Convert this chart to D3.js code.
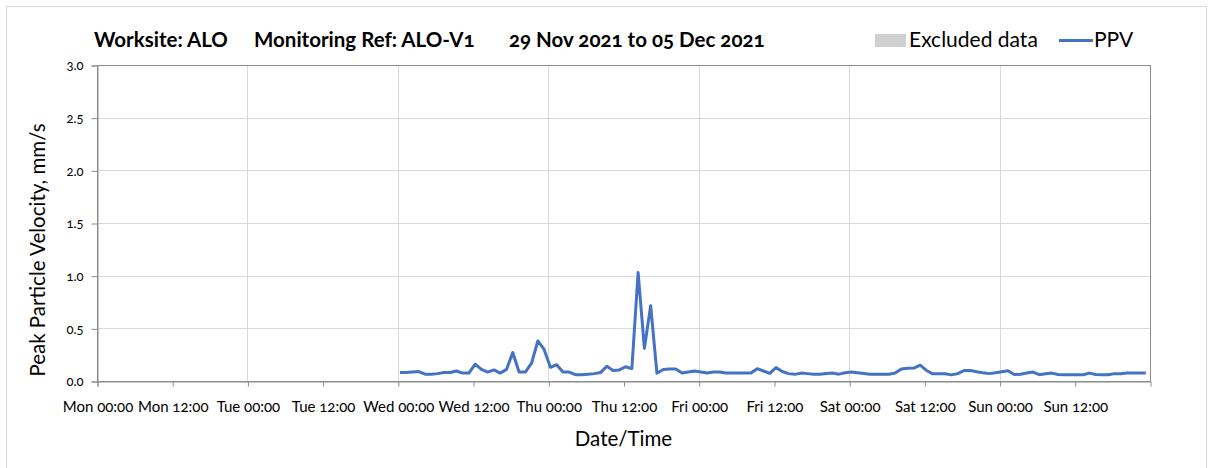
<!DOCTYPE html>
<html>
<head>
<meta charset="utf-8">
<script src="https://cdn.jsdelivr.net/npm/d3@7"></script>
<style>
  html, body { margin: 0; padding: 0; background: #fff; }
  svg { display: block; font-family: Lato, "Open Sans", "Liberation Sans", sans-serif; font-variant-numeric: oldstyle-nums; }
</style>
</head>
<body>
<svg id="chart" width="1208" height="468"></svg>
<script>
// Report period and hourly PPV readings (mm/s), first reading Wed 01 Dec 2021 00:20
const periodStart = new Date(2021, 10, 29, 0, 0);
const periodEnd = new Date(2021, 11, 6, 0, 0);
const firstReading = new Date(2021, 11, 1, 0, 20);
const ppvValues = [
  0.08, 0.08, 0.085, 0.09, 0.065, 0.065, 0.07, 0.08, 0.08, 0.095,
  0.075, 0.075, 0.16, 0.11, 0.085, 0.105, 0.075, 0.11, 0.27, 0.085,
  0.085, 0.17, 0.38, 0.30, 0.13, 0.155, 0.085, 0.085, 0.06, 0.06,
  0.065, 0.07, 0.08, 0.14, 0.10, 0.105, 0.135, 0.117, 1.03, 0.31,
  0.715, 0.073, 0.11, 0.115, 0.115, 0.075, 0.085, 0.095, 0.085, 0.075,
  0.085, 0.085, 0.075, 0.075, 0.075, 0.075, 0.075, 0.117, 0.095, 0.073,
  0.127, 0.09, 0.07, 0.063, 0.075, 0.07, 0.065, 0.065, 0.072, 0.075,
  0.065, 0.078, 0.085, 0.078, 0.072, 0.065, 0.065, 0.065, 0.065, 0.075,
  0.115, 0.12, 0.123, 0.15, 0.10, 0.068, 0.07, 0.068, 0.058, 0.07,
  0.10, 0.10, 0.088, 0.078, 0.07, 0.078, 0.088, 0.098, 0.062, 0.065,
  0.075, 0.085, 0.06, 0.068, 0.075, 0.062, 0.06, 0.06, 0.06, 0.06,
  0.075, 0.062, 0.06, 0.06, 0.07, 0.068, 0.075, 0.075, 0.075, 0.075
];
const yTicks = [0, 0.5, 1.0, 1.5, 2.0, 2.5, 3.0];
const xTickLabels = [
  "Mon 00:00", "Mon 12:00", "Tue 00:00", "Tue 12:00", "Wed 00:00", "Wed 12:00", "Thu 00:00",
  "Thu 12:00", "Fri 00:00", "Fri 12:00", "Sat 00:00", "Sat 12:00", "Sun 00:00", "Sun 12:00"
];
const titleParts = ["Worksite: ALO", "Monitoring Ref: ALO-V1", "29 Nov 2021 to 05 Dec 2021"];
const legendLabels = ["Excluded data", "PPV"];

const readings = ppvValues.map((v, i) => ({ t: d3.timeHour.offset(firstReading, i), v }));
const xTicks = xTickLabels.map((_, i) => d3.timeHour.offset(periodStart, i * 12));

const svg = d3.select("#chart");
const m = { left: 97, right: 1150, top: 65, bottom: 381 };

const x = d3.scaleTime().domain([periodStart, periodEnd]).range([m.left, m.right]);
const y = d3.scaleLinear().domain([0, 3]).range([m.bottom, m.top]);

// outer chart frame
svg.append("rect")
  .attr("x", 6.5).attr("y", 6.5).attr("width", 1200).attr("height", 480)
  .attr("fill", "#fff").attr("stroke", "#d9d9d9").attr("stroke-width", 1);

// gridlines
svg.append("g").selectAll("line").data(yTicks.slice(1))
  .join("line")
  .attr("x1", m.left).attr("x2", m.right)
  .attr("y1", d => Math.round(y(d)) + 0.5).attr("y2", d => Math.round(y(d)) + 0.5)
  .attr("stroke", "#d9d9d9");
svg.append("g").selectAll("line").data(xTicks.filter((d, i) => i % 2 === 0 && i > 0))
  .join("line")
  .attr("x1", d => Math.round(x(d)) + 0.5).attr("x2", d => Math.round(x(d)) + 0.5)
  .attr("y1", m.top).attr("y2", m.bottom)
  .attr("stroke", "#d9d9d9");

// plot frame
svg.append("rect")
  .attr("x", m.left + 0.5).attr("y", m.top + 0.5)
  .attr("width", m.right - m.left).attr("height", m.bottom - m.top)
  .attr("fill", "none").attr("stroke", "#8c8c8c");

// axes
const xAxis = d3.axisBottom(x).tickValues(xTicks).tickSize(5).tickFormat((d, i) => xTickLabels[i]);
const gx = svg.append("g").attr("transform", `translate(0.5,${m.bottom + 0.5})`).call(xAxis);
gx.select(".domain").attr("stroke", "#8c8c8c");
gx.selectAll(".tick line").attr("stroke", "#8c8c8c");
gx.selectAll(".tick text").attr("fill", "#000").attr("font-size", 15).attr("dy", null).attr("y", 30)
  .attr("font-family", "Lato, sans-serif");

const yAxis = d3.axisLeft(y).tickValues(yTicks).tickSize(6).tickFormat(d3.format(".1f"));
const gy = svg.append("g").attr("transform", `translate(${m.left + 0.5},0.5)`).call(yAxis);
gy.select(".domain").attr("stroke", "#8c8c8c");
gy.selectAll(".tick line").attr("stroke", "#8c8c8c");
gy.selectAll(".tick text").attr("fill", "#000").attr("font-size", 13).attr("x", -14)
  .attr("font-family", "Lato, sans-serif");

// PPV line
const line = d3.line().x(d => x(d.t)).y(d => y(d.v));
svg.append("path").datum(readings)
  .attr("d", line)
  .attr("fill", "none").attr("stroke", "#4472c4").attr("stroke-width", 3)
  .attr("stroke-linejoin", "round").attr("stroke-linecap", "butt");

// title
const titleX = [94, 254, 509];
svg.append("g").selectAll("text").data(titleParts)
  .join("text")
  .attr("x", (d, i) => titleX[i]).attr("y", 47)
  .attr("font-size", 20.5).attr("font-weight", "bold").attr("fill", "#000")
  .text(d => d);

// legend
const lg = svg.append("g");
lg.append("rect").attr("x", 875).attr("y", 34).attr("width", 31).attr("height", 13).attr("fill", "#d0d0d0");
lg.append("text").attr("x", 909).attr("y", 47).attr("font-size", 21).attr("fill", "#000").text(legendLabels[0]);
lg.append("line").attr("x1", 1059).attr("x2", 1093).attr("y1", 40.5).attr("y2", 40.5)
  .attr("stroke", "#4472c4").attr("stroke-width", 3);
lg.append("text").attr("x", 1094).attr("y", 47).attr("font-size", 21).attr("fill", "#000").text(legendLabels[1]);

// axis titles
svg.append("text")
  .attr("x", (m.left + m.right) / 2).attr("y", 446)
  .attr("text-anchor", "middle").attr("font-size", 20.5).attr("fill", "#000")
  .text("Date/Time");
svg.append("text")
  .attr("transform", `translate(45,250) rotate(-90)`)
  .attr("text-anchor", "middle").attr("font-size", 20.5).attr("fill", "#000")
  .text("Peak Particle Velocity, mm/s");
</script>
</body>
</html>
